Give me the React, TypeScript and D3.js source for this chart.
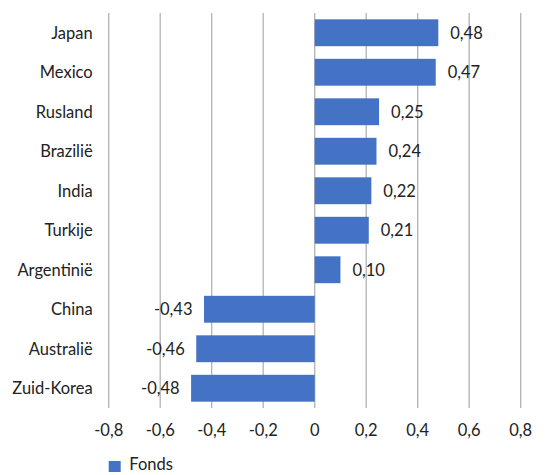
import React from "react";
import * as d3 from "d3";

const categories = ["Japan", "Mexico", "Rusland", "Brazilië", "India", "Turkije", "Argentinië", "China", "Australië", "Zuid-Korea"];
const values = [0.48, 0.47, 0.25, 0.24, 0.22, 0.21, 0.1, -0.43, -0.46, -0.48];
const ticks = [-0.8, -0.6, -0.4, -0.2, 0, 0.2, 0.4, 0.6, 0.8];
const seriesName = "Fonds";

const W = 547, H = 475;
const left = 108.7, right = 520.7, top = 13, bottom = 408;
const FONT = "Lato, 'Open Sans', sans-serif";
const FS = 16.5;
const fmt = (v: number) => v.toFixed(2).replace(".", ",");
const fmtTick = (v: number) => (v === 0 ? "0" : v.toFixed(1).replace(".", ","));

export default function App() {
  const x = d3.scaleLinear().domain([-0.8, 0.8]).range([left, right]);
  const y = d3.scaleBand<string>().domain(categories).range([top, bottom]).paddingInner(0.32).paddingOuter(0.16);
  return (
    <svg width={W} height={H} style={{ position: "absolute", left: 0, top: 0 }} fontFamily={FONT}>
      {ticks.map((t) => (
        <line key={t} x1={x(t)} x2={x(t)} y1={top} y2={bottom} stroke="#b3b3b3" strokeWidth={1.3} />
      ))}
      {categories.map((c, i) => {
        const v = values[i];
        const x0 = x(Math.min(0, v));
        const w = Math.abs(x(v) - x(0));
        const yc = (y(c) as number) + y.bandwidth() / 2;
        return (
          <g key={c}>
            <rect x={x0} y={y(c)} width={w} height={y.bandwidth()} fill="#4472C4" />
            <text x={left - 16} y={yc} dy="0.36em" textAnchor="end" fontSize={FS} fill="#222">{c}</text>
            <text
              x={v >= 0 ? x(v) + 12 : x(v) - 11.5}
              y={yc}
              dy="0.36em"
              textAnchor={v >= 0 ? "start" : "end"}
              fontSize={FS}
              fill="#222"
            >
              {fmt(v)}
            </text>
          </g>
        );
      })}
      {ticks.map((t) => (
        <text key={"l" + t} x={x(t)} y={430} dy="0.36em" textAnchor="middle" fontSize={FS} fill="#222">{fmtTick(t)}</text>
      ))}
      <rect x={108.7} y={461} width={12} height={11} fill="#4472C4" />
      <text x={129.3} y={464.5} dy="0.36em" fontSize={FS} fill="#222">{seriesName}</text>
    </svg>
  );
}
